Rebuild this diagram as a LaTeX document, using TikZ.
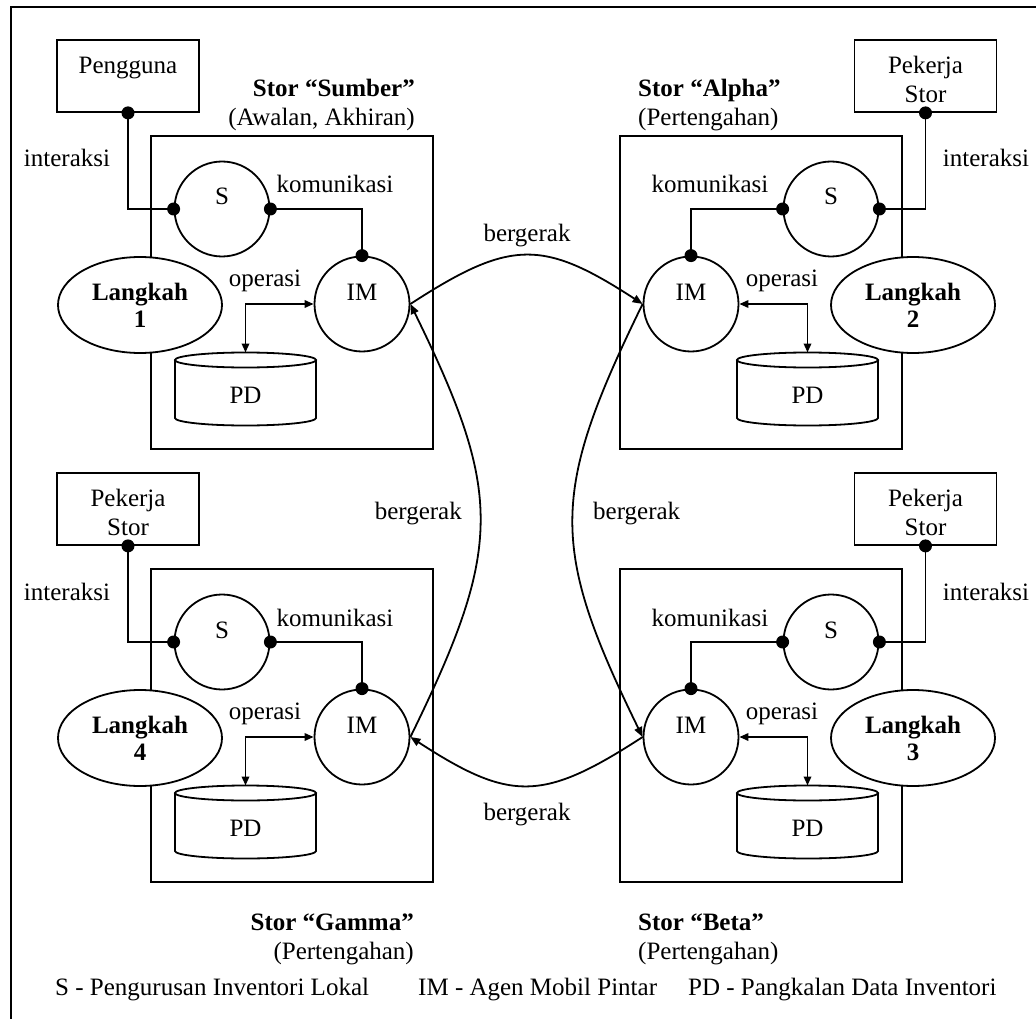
\documentclass[tikz,border=0pt]{standalone}
\usepackage{fontspec}
\setmainfont{Liberation Serif}
\usetikzlibrary{arrows.meta,shapes.geometric}
\begin{document}
\begin{tikzpicture}[x=1pt,y=-1pt,
  every node/.style={font=\fontsize{25}{29}\selectfont, inner sep=0pt},
  ln/.style={line width=1.8pt},
  actor/.style={draw, ln, minimum width=142pt, minimum height=72pt},
  storebox/.style={draw, ln, minimum width=282pt, minimum height=313pt},
  proc/.style={draw, circle, ln, minimum size=95pt},
  stepellipse/.style={draw, ellipse, fill=white, ln, minimum width=164pt, minimum height=96pt,
    align=center, font=\fontsize{25}{27}\selectfont\bfseries},
  title/.style={font=\fontsize{25}{29}\selectfont\bfseries},
  move/.style={ln, -{Triangle[length=10pt,width=8pt]}},
  op/.style={ln, {Triangle[length=9pt,width=7.5pt]}-{Triangle[length=9pt,width=7.5pt]}},
  dotr/.style={radius=6.5pt}]
\useasboundingbox (0,0) rectangle (1036,1019);

% outer frame
\draw[ln] (11,1019) -- (11,7) -- (1036,7);

% ---------- store boxes ----------
\node[storebox] (st1) at (292,292.5) {};
\node[storebox] (st2) at (761,292.5) {};
\node[storebox] (st3) at (761,725.5) {};
\node[storebox] (st4) at (292,725.5) {};

% ---------- store titles ----------
\node[title, anchor=base east] (t1) at (415,97) {Stor “Sumber”};
\node[anchor=base east] (t1b) at (415,126) {(Awalan, Akhiran)};
\node[title, anchor=base west] (t2) at (638,97) {Stor “Alpha”};
\node[anchor=base west] (t2b) at (638,126) {(Pertengahan)};
\node[title, anchor=base west] (t3) at (638,930) {Stor “Beta”};
\node[anchor=base west] (t3b) at (638,959) {(Pertengahan)};
\node[title, anchor=base east] (t4) at (414,930) {Stor “Gamma”};
\node[anchor=base east] (t4b) at (414,959) {(Pertengahan)};

% ---------- actors ----------
\node[actor] (u1) at (128,76) {};
\node[anchor=base] (u1t) at (128,74) {Pengguna};
\node[actor] (u2) at (925.5,76) {};
\node[align=center] (u2t) at (925.5,79) {Pekerja\\Stor};
\node[actor] (u3) at (925.5,509) {};
\node[align=center] (u3t) at (925.5,512) {Pekerja\\Stor};
\node[actor] (u4) at (128,509) {};
\node[align=center] (u4t) at (128,512) {Pekerja\\Stor};

% ---------- S and IM processes ----------
\node[proc] (s1) at (222,209) {};
\node[proc] (im1) at (362,304) {};
\node[proc] (s2) at (831,209) {};
\node[proc] (im2) at (691,304) {};
\node[proc] (s3) at (831,642) {};
\node[proc] (im3) at (691,737) {};
\node[proc] (s4) at (222,642) {};
\node[proc] (im4) at (362,737) {};
\foreach \n in {s1,s2,s3,s4}
  \node[anchor=base] at ([yshift=4pt]\n.center) {S};
\foreach \n in {im1,im2,im3,im4}
  \node[anchor=base] at ([yshift=3.5pt]\n.center) {IM};

% ---------- inventory databases ----------
\foreach \cx/\ty/\k in {245.5/360/1, 807.5/360/2, 807.5/793/3, 245.5/793/4}{
  \draw[ln] (\cx,\ty) ellipse[x radius=70.5, y radius=7.5];
  \draw[ln] (\cx-70.5,\ty) -- (\cx-70.5,\ty+58)
    arc[start angle=180, end angle=0, x radius=70.5, y radius=7.5] -- (\cx+70.5,\ty);
  \coordinate (pd\k) at (\cx,\ty-7.5);
  \node[anchor=base] (pd\k t) at (\cx,\ty+43) {PD};
}

% ---------- interaction / communication links ----------
\draw[ln] (u1.south) |- (s1.west);
\draw[ln] (s1.east) -| (im1.north);
\draw[ln] (u2.south) |- (s2.east);
\draw[ln] (s2.west) -| (im2.north);
\draw[ln] (u3.south) |- (s3.east);
\draw[ln] (s3.west) -| (im3.north);
\draw[ln] (u4.south) |- (s4.west);
\draw[ln] (s4.east) -| (im4.north);
\foreach \p in {u1.south,s1.west,s1.east,im1.north,
                u2.south,s2.east,s2.west,im2.north,
                u3.south,s3.east,s3.west,im3.north,
                u4.south,s4.west,s4.east,im4.north}
  \fill (\p) circle[dotr];

% ---------- operations ----------
\draw[op] (pd1) |- (im1.west);
\draw[op] (im2.east) -| (pd2);
\draw[op] (im3.east) -| (pd3);
\draw[op] (pd4) |- (im4.west);

% ---------- steps ----------
\node[stepellipse] (lk1) at (140,305) {Langkah\\1};
\node[stepellipse] (lk2) at (913,305) {Langkah\\2};
\node[stepellipse] (lk3) at (913,738) {Langkah\\3};
\node[stepellipse] (lk4) at (140,738) {Langkah\\4};

% ---------- link labels ----------
\node[anchor=base] (ia1) at (67,167) {interaksi};
\node[anchor=base] (ia2) at (986,167) {interaksi};
\node[anchor=base] (ia3) at (986,600) {interaksi};
\node[anchor=base] (ia4) at (67,600) {interaksi};
\node[anchor=base] (ko1) at (335,193) {komunikasi};
\node[anchor=base] (ko2) at (710,193) {komunikasi};
\node[anchor=base] (ko3) at (710,626) {komunikasi};
\node[anchor=base] (ko4) at (335,626) {komunikasi};
\node[anchor=base] (op1) at (265,286) {operasi};
\node[anchor=base] (op2) at (782,286) {operasi};
\node[anchor=base] (op3) at (782,719) {operasi};
\node[anchor=base] (op4) at (265,719) {operasi};

% ---------- agent migration ----------
\draw[move] (im1.east) .. controls +(100,-65) and +(-100,-65) .. (im2.west);
\draw[move] (im2.west) .. controls +(-93,190) and +(-93,-190) .. (im3.west);
\draw[move] (im3.west) .. controls +(-100,65) and +(100,65) .. (im4.east);
\draw[move] (im4.east) .. controls +(93,-190) and +(93,190) .. (im1.east);
\node[anchor=base] (bg1) at (527,241) {bergerak};
\node[anchor=base west] (bg2) at (593,519) {bergerak};
\node[anchor=base] (bg3) at (527,820) {bergerak};
\node[anchor=base east] (bg4) at (462,519) {bergerak};

% ---------- legend ----------
\node[anchor=base west] (lg1) at (55,995) {S - Pengurusan Inventori Lokal};
\node[anchor=base west] (lg2) at (418,995) {IM - Agen Mobil Pintar};
\node[anchor=base west] (lg3) at (688,995) {PD - Pangkalan Data Inventori};
\end{tikzpicture}
\end{document}
